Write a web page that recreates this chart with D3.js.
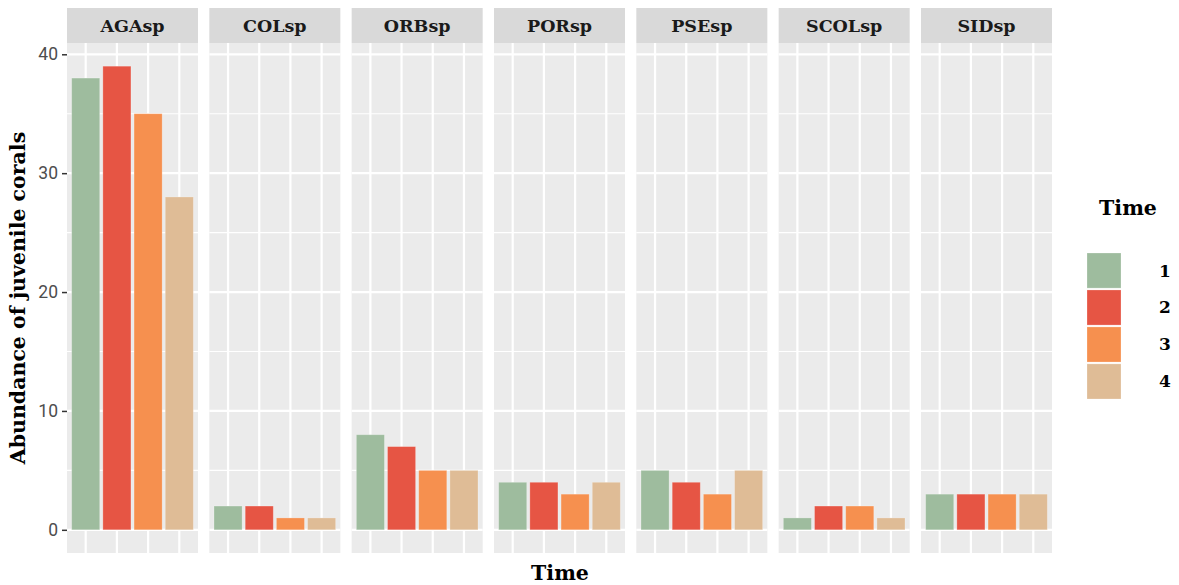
<!DOCTYPE html>
<html><head><meta charset="utf-8">
<script src="https://cdn.jsdelivr.net/npm/d3@7"></script>
<style>body{margin:0;background:#fff}svg{display:block}</style>
</head><body>
<script>
const species = ["AGAsp","COLsp","ORBsp","PORsp","PSEsp","SCOLsp","SIDsp"];
const times = ["1","2","3","4"];
const abundance = {
  AGAsp:[38,39,35,28],
  COLsp:[2,2,1,1],
  ORBsp:[8,7,5,5],
  PORsp:[4,4,3,4],
  PSEsp:[5,4,3,5],
  SCOLsp:[1,2,2,1],
  SIDsp:[3,3,3,3]
};
const colors = ["#9EBC9E","#E65544","#F6904F","#DFBC96"];
const yTicks = [0,10,20,30,40];
const yMinor = [5,15,25,35];

const W=1179,H=585;
const svg=d3.select("body").append("svg").attr("width",W).attr("height",H);
const serif="'DejaVu Serif', serif";
const sans="Roboto, 'Noto Sans', sans-serif";

const panelTop=43, panelBottom=553, stripTop=8;
const fx=d3.scaleBand().domain(species).range([67,1052]).paddingInner(0.0796).paddingOuter(0);
const y=d3.scaleLinear().domain([-1.95,40.95]).range([panelBottom,panelTop]);
const color=d3.scaleOrdinal().domain(times).range(colors);
const pw=fx.bandwidth();
const x=d3.scaleBand().domain(times).range([0,pw]).paddingInner(0.1).paddingOuter(0.15);

species.forEach(sp=>{
  const g=svg.append("g").attr("transform",`translate(${fx(sp)},0)`);
  g.append("rect").attr("x",0).attr("y",panelTop).attr("width",pw).attr("height",panelBottom-panelTop).attr("fill","#EBEBEB");
  yMinor.forEach(v=>g.append("line").attr("x1",0).attr("x2",pw).attr("y1",y(v)).attr("y2",y(v)).attr("stroke","#fff").attr("stroke-width",1.1));
  yTicks.forEach(v=>g.append("line").attr("x1",0).attr("x2",pw).attr("y1",y(v)).attr("y2",y(v)).attr("stroke","#fff").attr("stroke-width",2.2));
  times.forEach(t=>{const cx=x(t)+x.bandwidth()/2;
    g.append("line").attr("x1",cx).attr("x2",cx).attr("y1",panelTop).attr("y2",panelBottom).attr("stroke","#fff").attr("stroke-width",2.2);});
  g.selectAll("rect.bar").data(abundance[sp].map((v,i)=>({t:times[i],v})))
    .join("rect").attr("class","bar")
    .attr("x",d=>x(d.t)).attr("width",x.bandwidth())
    .attr("y",d=>y(d.v)).attr("height",d=>y(0)-y(d.v))
    .attr("fill",d=>color(d.t)).attr("stroke","#fff").attr("stroke-opacity",0.3).attr("stroke-width",0.8);
  g.append("rect").attr("x",0).attr("y",stripTop).attr("width",pw).attr("height",panelTop-stripTop).attr("fill","#D9D9D9");
  g.append("text").attr("x",pw/2).attr("y",(stripTop+panelTop)/2).attr("dy","0.35em")
    .attr("text-anchor","middle").attr("font-family",serif).attr("font-weight","bold")
    .attr("font-size",17.5).attr("fill","#1A1A1A").text(sp);
});

// y axis
const yAxis=d3.axisLeft(y).tickValues(yTicks).tickSize(5).tickPadding(4);
const ya=svg.append("g").attr("transform","translate(67,0)").call(yAxis);
ya.select(".domain").remove();
ya.selectAll(".tick line").attr("stroke","#333").attr("stroke-width",1.5);
ya.selectAll(".tick text").attr("font-family",sans).attr("font-size",17.5).attr("fill","#4D4D4D");

// titles
svg.append("text").attr("transform","translate(25,298) rotate(-90)").attr("text-anchor","middle")
  .attr("font-family",serif).attr("font-weight","bold").attr("font-size",20.5).attr("fill","#000")
  .text("Abundance of juvenile corals");
svg.append("text").attr("x",560).attr("y",580).attr("text-anchor","middle")
  .attr("font-family",serif).attr("font-weight","bold").attr("font-size",20.5).attr("fill","#000").text("Time");

// legend
const lg=svg.append("g");
lg.append("text").attr("x",1128).attr("y",215).attr("text-anchor","middle")
  .attr("font-family",serif).attr("font-weight","bold").attr("font-size",20.5).attr("fill","#000").text("Time");
const ky=d3.scaleBand().domain(times).range([253,399]).paddingInner(0.05);
times.forEach(t=>{
  lg.append("rect").attr("x",1087).attr("y",ky(t)).attr("width",34).attr("height",ky.bandwidth())
    .attr("fill",color(t)).attr("stroke","#fff").attr("stroke-opacity",0.3).attr("stroke-width",0.8);
  lg.append("text").attr("x",1159).attr("y",ky(t)+ky.bandwidth()/2).attr("dy","0.35em")
    .attr("font-family",serif).attr("font-weight","bold").attr("font-size",17).attr("fill","#000").text(t);
});
</script>
</body></html>
